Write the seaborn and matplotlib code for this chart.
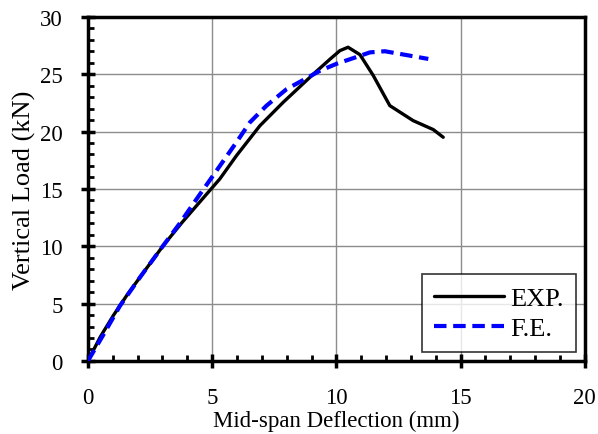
import matplotlib
matplotlib.use("Agg")
import matplotlib.pyplot as plt
import seaborn as sns
import pandas as pd
from matplotlib.ticker import MultipleLocator

exp_x = [0, 0.5, 1.02, 1.56, 2.3, 3.03, 3.8, 4.64, 5.31, 5.98, 6.92, 7.86, 9.07, 9.74, 10.14, 10.47, 10.95, 11.48, 12.15, 13.09, 13.9, 14.3]
exp_y = [0, 2.1, 3.95, 5.7, 7.9, 10.05, 12.1, 14.2, 15.87, 17.9, 20.5, 22.55, 25.0, 26.3, 27.05, 27.35, 26.7, 24.9, 22.26, 20.95, 20.17, 19.5]
fe_x = [0, 0.6, 1.29, 2.1, 3.03, 3.7, 4.37, 5.31, 5.98, 6.52, 7.19, 8.0, 8.8, 9.34, 10.0, 10.95, 11.35, 11.95, 12.55, 13.7]
fe_y = [0, 2.2, 4.8, 7.3, 10.05, 12.0, 14.1, 17.0, 19.07, 20.8, 22.26, 23.7, 24.65, 25.3, 25.9, 26.6, 26.9, 27.0, 26.77, 26.33]

sns.set_theme(style="white")
plt.rcParams['font.family'] = ['Liberation Serif', 'DejaVu Serif']
plt.rcParams['text.color'] = 'black'
plt.rcParams['axes.labelcolor'] = 'black'

df_exp = pd.DataFrame({"x": exp_x, "y": exp_y})
df_fe = pd.DataFrame({"x": fe_x, "y": fe_y})

fig, ax = plt.subplots(figsize=(5.98, 4.35), dpi=100)
fig.subplots_adjust(left=0.147, right=0.978, top=0.959, bottom=0.168)

sns.lineplot(data=df_exp, x="x", y="y", ax=ax, color="black", lw=2.4, label="EXP.", sort=False, zorder=3)
sns.lineplot(data=df_fe, x="x", y="y", ax=ax, color="blue", lw=3.0, ls=(0, (3, 1.6)), label="F.E.", sort=False, zorder=3)

ax.set_xlim(0, 20)
ax.set_ylim(0, 30)
ax.xaxis.set_major_locator(MultipleLocator(5))
ax.xaxis.set_minor_locator(MultipleLocator(1))
ax.yaxis.set_major_locator(MultipleLocator(5))
ax.yaxis.set_minor_locator(MultipleLocator(1))
ax.grid(True, which="major", color="#8c8c8c", lw=1.0)
ax.set_axisbelow(True)

for s in ax.spines.values():
    s.set_visible(True)
    s.set_color("black")
    s.set_linewidth(2.5)

ax.tick_params(axis="both", which="major", direction="inout", length=10, width=2.5,
               labelsize=16.5, colors="black", labelcolor="black")
ax.tick_params(axis="x", which="major", pad=14)
ax.tick_params(axis="y", which="major", pad=13)
ax.tick_params(axis="both", which="minor", direction="in", length=4.5, width=2, colors="black")
ax.tick_params(bottom=True, left=True, top=False, right=False, which="both")

ax.set_xlabel("Mid-span Deflection (mm)", fontsize=16.5, labelpad=1, color="black")
ax.set_ylabel("Vertical Load (kN)", fontsize=19, labelpad=3, color="black")

leg = ax.legend(loc="lower right", fontsize=19, frameon=True, fancybox=False,
                edgecolor="black", handlelength=2.65, borderaxespad=0.35, handletextpad=0.25,
                labelspacing=0.25, borderpad=0.45)
leg.get_frame().set_linewidth(1.2)
for t in leg.get_texts():
    t.set_color("black")

fig.savefig("out.png", dpi=100)
